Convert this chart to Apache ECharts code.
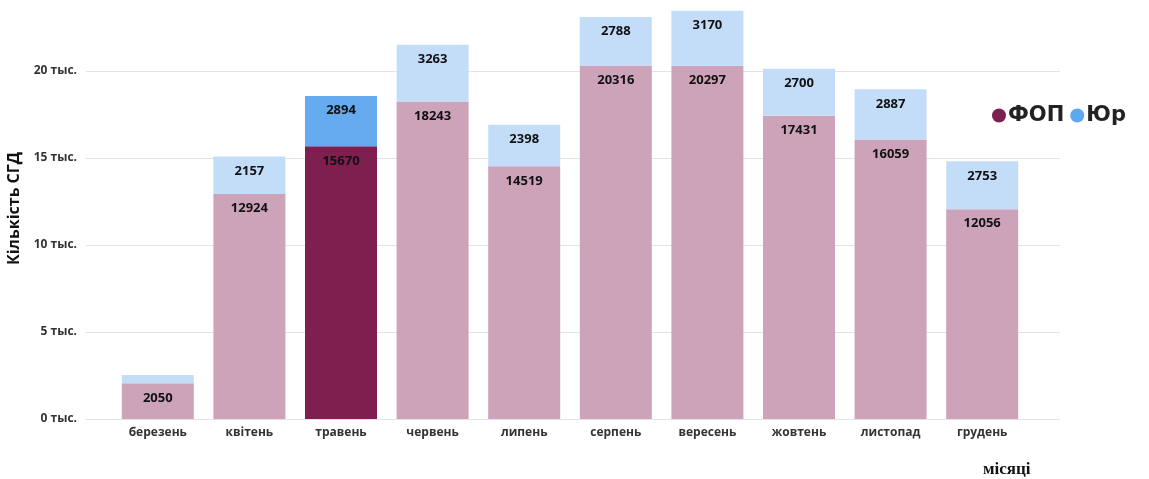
<!DOCTYPE html>
<html><head><meta charset="utf-8">
<script src="https://cdn.jsdelivr.net/npm/echarts@6/dist/echarts.min.js"></script>
<style>html,body{margin:0;padding:0;background:#fff}#c{width:1149px;height:479px}</style>
</head><body><div id="c"></div>
<script>
const categories = ['березень','квітень','травень','червень','липень','серпень','вересень','жовтень','листопад','грудень'];
const fop = [2050,12924,15670,18243,14519,20316,20297,17431,16059,12056];
const jur = [480,2157,2894,3263,2398,2788,3170,2700,2887,2753];
const yTicks = [0,5000,10000,15000,20000];
const highlightIndex = 2;

const chart = echarts.init(document.getElementById('c'));
const gTop = -16, gH = 435;
const lbl = {show:true, position:'insideTop', distance:8, color:'#111', fontWeight:'bold', fontSize:13, fontFamily:'Open Sans'};
chart.setOption({
  animation:false,
  textStyle:{fontFamily:'Open Sans'},
  title:{text:'місяці', left:978, top:456,
    textStyle:{fontFamily:'Liberation Serif', fontSize:17, fontWeight:'bold', color:'#111'}},
  legend:{
    left:987, top:100, icon:'circle', itemWidth:14, itemHeight:14, itemGap:6,
    textStyle:{fontSize:21, fontWeight:'bold', color:'#222', fontFamily:'DejaVu Sans', padding:[0,0,0,-3]},
    data:[{name:'ФОП', itemStyle:{color:'#7b2050'}},{name:'Юр', itemStyle:{color:'#5ea8ef'}}]
  },
  grid:[
    {left:86, right:89, top:gTop, height:gH, containLabel:false, outerBoundsMode:'none'},
    {left:112, right:121, top:gTop, height:gH, containLabel:false, outerBoundsMode:'none'}
  ],
  xAxis:[
    {gridIndex:0, type:'value', show:false, min:0, max:1},
    {gridIndex:1, type:'category', data:categories,
      axisLine:{show:false}, axisTick:{show:false},
      axisLabel:{margin:8, color:'#333', fontWeight:'bold', fontSize:12}
    }
  ],
  yAxis:[
    {gridIndex:0, type:'value', min:0, max:25000, interval:5000,
      axisLine:{show:false}, axisTick:{show:false},
      splitLine:{lineStyle:{color:'#e3e3e3'}},
      axisLabel:{margin:9, color:'#333', fontWeight:'bold', fontSize:12,
        formatter:v=> yTicks.indexOf(v)>=0 ? (v/1000)+' тыс.' : ''},
      name:'Кількість СГД', nameLocation:'middle', nameGap:62, nameRotate:90,
      nameTextStyle:{fontSize:16, fontWeight:'bold', color:'#111', padding:[0,0,0,-14]}
    },
    {gridIndex:1, type:'value', min:0, max:25000, interval:5000, show:false, splitLine:{show:false}}
  ],
  series:[
    {name:'ФОП', type:'bar', stack:'s', xAxisIndex:1, yAxisIndex:1, barWidth:72,
      data:fop.map((v,i)=>({value:v, itemStyle:{color: i===highlightIndex ? '#7e1f50' : '#cda3b9'}})),
      label:lbl
    },
    {name:'Юр', type:'bar', stack:'s', xAxisIndex:1, yAxisIndex:1, barWidth:72,
      data:jur.map((v,i)=>({value:v, itemStyle:{color: i===highlightIndex ? '#66abf0' : '#c3ddf8'}, label:{show: i!==0}})),
      label:lbl
    }
  ]
});
</script></body></html>
